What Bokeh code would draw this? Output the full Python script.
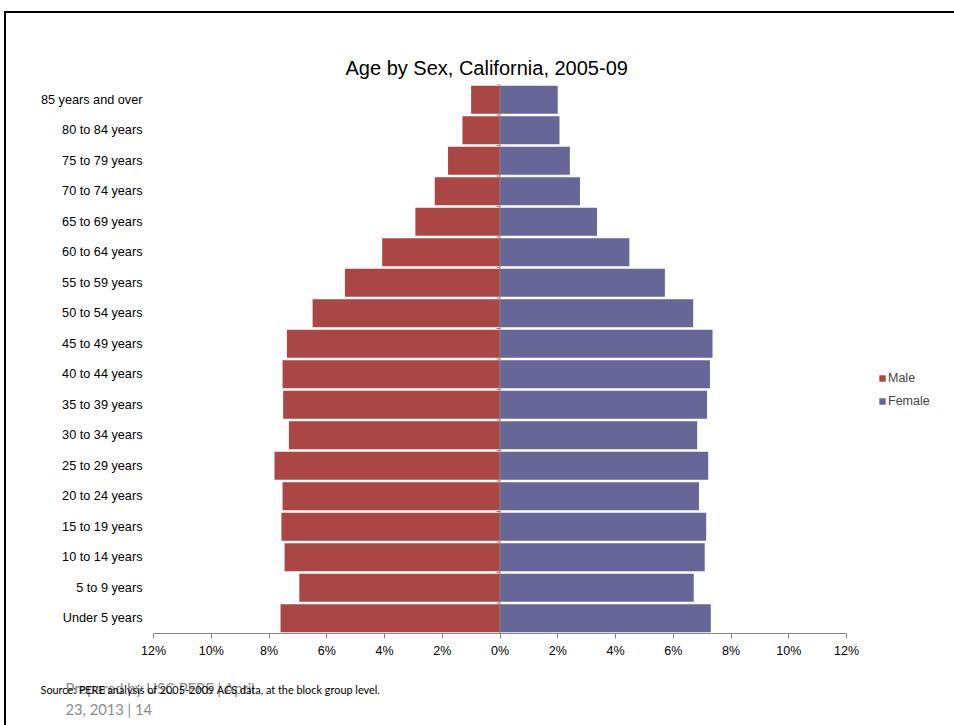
from bokeh.plotting import figure
from bokeh.layouts import column, row
from bokeh.models import (Range1d, FixedTicker, Span, Legend, LegendItem,
                          ColumnDataSource, InlineStyleSheet)
from bokeh.core.properties import value
from bokeh.embed import file_html
from bokeh.resources import INLINE

# ---- data (percent of population) ----
age_groups = ["Under 5 years", "5 to 9 years", "10 to 14 years", "15 to 19 years",
              "20 to 24 years", "25 to 29 years", "30 to 34 years", "35 to 39 years",
              "40 to 44 years", "45 to 49 years", "50 to 54 years", "55 to 59 years",
              "60 to 64 years", "65 to 69 years", "70 to 74 years", "75 to 79 years",
              "80 to 84 years", "85 years and over"]
male = [7.60, 6.95, 7.46, 7.57, 7.53, 7.81, 7.31, 7.51, 7.53, 7.38,
        6.49, 5.37, 4.08, 2.93, 2.26, 1.80, 1.30, 1.00]
female = [7.30, 6.71, 7.09, 7.14, 6.89, 7.21, 6.83, 7.17, 7.27, 7.36,
          6.69, 5.71, 4.48, 3.36, 2.77, 2.42, 2.06, 2.00]
x_ticks = [-12, -10, -8, -6, -4, -2, 0, 2, 4, 6, 8, 10, 12]
series_names = ["Male", "Female"]

title_text = "Age by Sex, California, 2005-09"
source_text = "Source: PERE analysis of 2005-2009 ACS data, at the block group level."
footer_lines = ["Prepared by USC PERE | April", "23, 2013 | 14"]

MALE_C = "#AA4643"
FEMALE_C = "#666699"
AXIS_C = "#868686"
FONT = "Liberation Sans"

W_MAIN, W_LEG, H_MAIN, H_FOOT = 860, 94, 670, 55

n = len(age_groups)
centers = [i + 0.5 for i in range(n)]
src = ColumnDataSource(dict(y=centers, male_left=[-m for m in male],
                            zero=[0] * n, female=female))

p = figure(width=W_MAIN, height=H_MAIN, output_backend="svg", toolbar_location=None,
           x_range=Range1d(-12, 12), y_range=Range1d(0, n),
           min_border_left=153, min_border_right=14, min_border_top=84,
           min_border_bottom=37, title=title_text, sizing_mode="fixed")
p.frame_align = False
p.outline_line_color = None
p.grid.visible = False

p.title.align = "left"
p.title.offset = 192
p.title.text_font = FONT
p.title.text_font_size = "20px"
p.title.text_font_style = "normal"
p.title.text_color = "black"
p.title.standoff = 12

p.hbar(y="y", left="male_left", right="zero", height=0.91, source=src,
       fill_color=MALE_C, line_color=None)
p.hbar(y="y", left="zero", right="female", height=0.91, source=src,
       fill_color=FEMALE_C, line_color=None)

# category axis line at zero with small tick marks between categories
p.add_layout(Span(location=0, dimension="height", line_color=AXIS_C, line_width=1))
bounds = list(range(n + 1))
p.segment(x0=[-0.12] * len(bounds), x1=[0] * len(bounds), y0=bounds, y1=bounds,
          line_color=AXIS_C, line_width=1)

# x axis
xa = p.xaxis[0]
xa.ticker = FixedTicker(ticks=x_ticks)
xa.major_label_overrides = {t: f"{abs(t)}%" for t in x_ticks}
xa.axis_line_color = AXIS_C
xa.major_tick_line_color = AXIS_C
xa.major_tick_in = 0
xa.major_tick_out = 5
xa.minor_tick_line_color = None
xa.major_label_text_font = FONT
xa.major_label_text_font_size = "12.5px"
xa.major_label_text_color = "black"

# y axis (labels only)
ya = p.yaxis[0]
ya.ticker = FixedTicker(ticks=centers)
ya.major_label_overrides = {c: g for c, g in zip(centers, age_groups)}
ya.axis_line_color = None
ya.major_tick_line_color = None
ya.minor_tick_line_color = None
ya.major_tick_in = 0
ya.major_tick_out = 0
ya.major_label_standoff = 11
ya.major_label_text_font = FONT
ya.major_label_text_font_size = "12.7px"
ya.major_label_text_color = "black"

# legend strip on the right (swatch renderers hold one row outside the view)
leg = figure(width=W_LEG, height=H_MAIN, output_backend="svg", toolbar_location=None,
             x_range=Range1d(0, 1), y_range=Range1d(0, 1), min_border=0,
             x_axis_type=None, y_axis_type=None, sizing_mode="fixed")
leg.frame_align = False
leg.outline_line_color = None
leg.grid.visible = False
swatch = ColumnDataSource(dict(y=[-5], left=[-5], right=[-4]))
lr_m = leg.hbar(y="y", left="left", right="right", height=1, source=swatch,
                fill_color=MALE_C, line_color=None)
lr_f = leg.hbar(y="y", left="left", right="right", height=1, source=swatch,
                fill_color=FEMALE_C, line_color=None)
legend = Legend(items=[LegendItem(label=series_names[0], renderers=[lr_m]),
                       LegendItem(label=series_names[1], renderers=[lr_f])],
                location=(18, 262), glyph_width=8, glyph_height=8,
                label_standoff=2, spacing=9, padding=10, margin=0,
                label_text_font=FONT, label_text_font_size="12.5px",
                border_line_color=None, background_fill_alpha=0)
leg.add_layout(legend)

# footer strip (pixel-like coordinates, y downward)
foot = figure(width=W_MAIN + W_LEG, height=H_FOOT, output_backend="svg",
              toolbar_location=None, x_range=Range1d(0, W_MAIN + W_LEG),
              y_range=Range1d(H_FOOT, 0), min_border=0, x_axis_type=None,
              y_axis_type=None, sizing_mode="fixed")
foot.frame_align = False
foot.outline_line_color = None
foot.grid.visible = False
foot.text(x=[65, 65], y=[17, 38], text=footer_lines, text_font=value("Lato"),
          text_font_size="14.7px", text_color="#8c8c8c", text_baseline="middle")
foot.text(x=[40], y=[19], text=[source_text], text_font=value("Lato"),
          text_font_size="10.9px", text_color="black", text_baseline="middle")

frame_css = InlineStyleSheet(css="""
:host::after { content: ''; position: fixed; left: 4px; top: 11px; right: 0px;
  bottom: 0px; border-left: 2px solid black; border-top: 2px solid black;
  pointer-events: none; z-index: 5; }
""")
p.stylesheets = [frame_css]
layout = column(row(p, leg, spacing=0), foot, spacing=0)

open("out.html", "w").write(file_html(layout, INLINE))
